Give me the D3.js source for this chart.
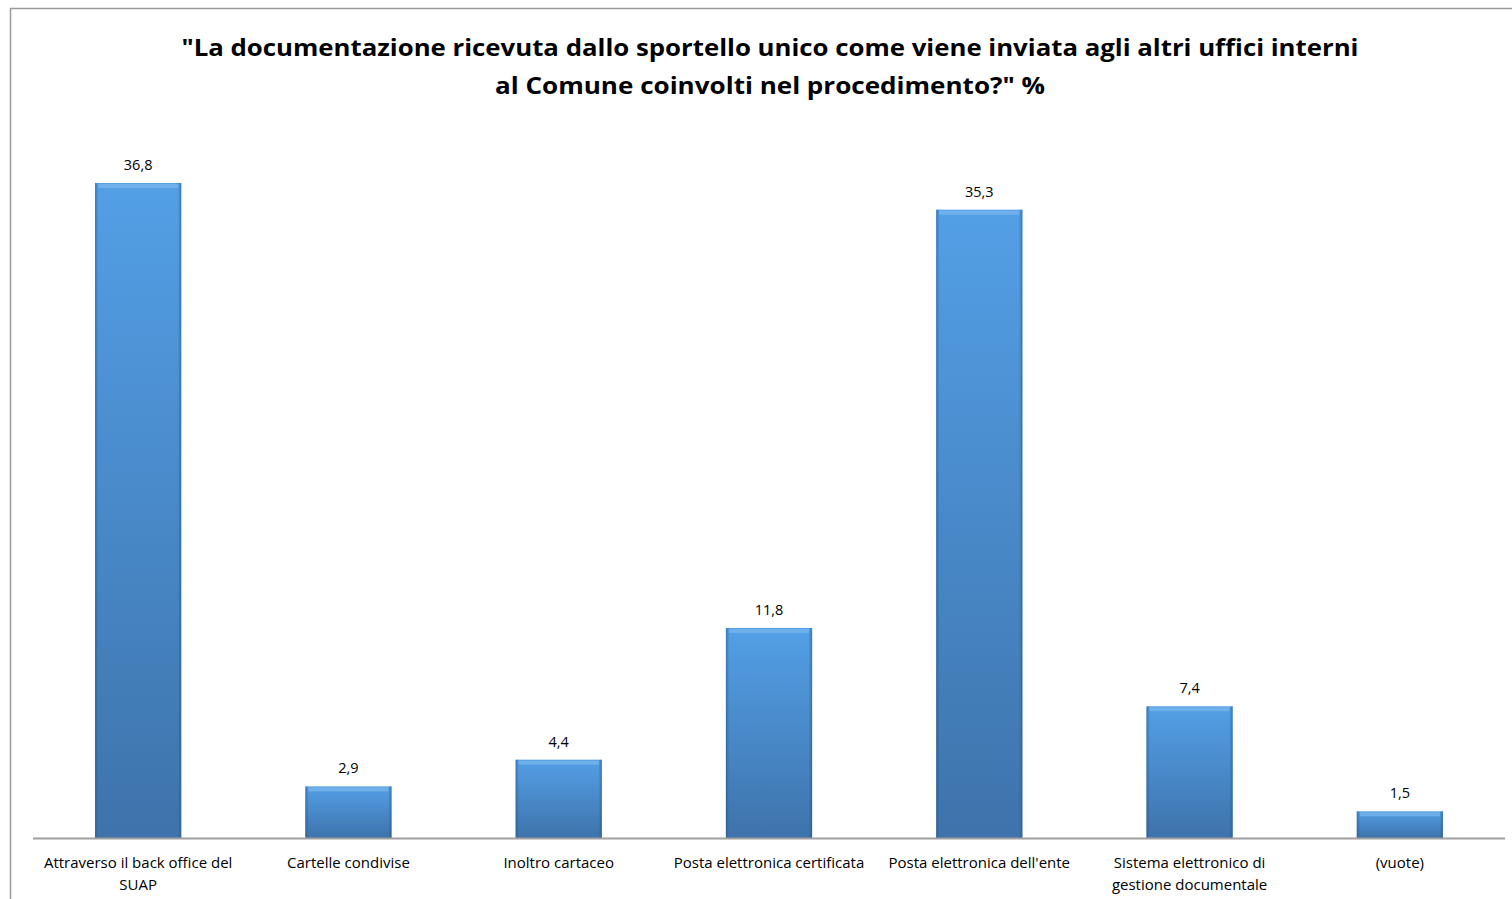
<!DOCTYPE html>
<html>
<head>
<meta charset="utf-8">
<script src="https://cdn.jsdelivr.net/npm/d3@7"></script>
<style>
body { margin: 0; background: #fff; }
svg text { font-family: "Open Sans", Lato, sans-serif; fill: #000; }
</style>
</head>
<body>
<svg id="mySVG" width="1512" height="899"></svg>
<script>
// chart data
var categories = ["Attraverso il back office del SUAP", "Cartelle condivise", "Inoltro cartaceo",
	"Posta elettronica certificata", "Posta elettronica dell'ente",
	"Sistema elettronico di gestione documentale", "(vuote)"];
var categoryLines = [["Attraverso il back office del", "SUAP"], ["Cartelle condivise"], ["Inoltro cartaceo"],
	["Posta elettronica certificata"], ["Posta elettronica dell'ente"],
	["Sistema elettronico di", "gestione documentale"], ["(vuote)"]];
var values = [36.8, 2.9, 4.4, 11.8, 35.3, 7.4, 1.5];
var valueLabels = ["36,8", "2,9", "4,4", "11,8", "35,3", "7,4", "1,5"];
var titleLines = ["\"La documentazione ricevuta dallo sportello unico come viene inviata agli altri uffici interni",
	"al Comune coinvolti nel procedimento?\" %"];
var titleWidths = [1177, 550];

function drawChart(){
	var svg = d3.select('#mySVG');

	// frame (left + top only visible)
	svg.append('path')
		.attr('d', 'M10.5,899 L10.5,8.5 L1512,8.5')
		.attr('fill', 'none')
		.attr('stroke', '#9a9a9a')
		.attr('stroke-width', 1.5);

	var defs = svg.append('defs');
	var grad = defs.append('linearGradient')
		.attr('id', 'barGrad')
		.attr('x1', 0).attr('y1', 0).attr('x2', 0).attr('y2', 1);
	grad.append('stop').attr('offset', '0%').attr('stop-color', '#539fe6');
	grad.append('stop').attr('offset', '100%').attr('stop-color', '#3e73ab');

	var side = defs.append('linearGradient')
		.attr('id', 'sideGrad')
		.attr('x1', 0).attr('y1', 0).attr('x2', 1).attr('y2', 0);
	side.append('stop').attr('offset', '0%').attr('stop-color', '#1f4f80').attr('stop-opacity', 0.5);
	side.append('stop').attr('offset', '4%').attr('stop-color', '#1f4f80').attr('stop-opacity', 0);
	side.append('stop').attr('offset', '96%').attr('stop-color', '#1f4f80').attr('stop-opacity', 0);
	side.append('stop').attr('offset', '100%').attr('stop-color', '#1f4f80').attr('stop-opacity', 0.5);

	var x = d3.scaleBand()
		.domain(categories)
		.range([33, 1505])
		.paddingInner(0.59)
		.paddingOuter(0.295);

	var y = d3.scaleLinear()
		.domain([0, 40])
		.range([838, 126]);

	// title
	svg.append('g').selectAll('text')
		.data(titleLines)
		.enter()
		.append('text')
		.attr('x', 770)
		.attr('y', function(d, i) { return 56 + i * 38; })
		.attr('text-anchor', 'middle')
		.attr('font-size', 24)
		.attr('font-weight', 'bold')
		.attr('textLength', function(d, i) { return titleWidths[i]; })
		.attr('lengthAdjust', 'spacingAndGlyphs')
		.text(function(d) { return d; });

	var bars = svg.append('g').selectAll('g')
		.data(values)
		.enter()
		.append('g');

	bars.append('rect')
		.attr('x', function(d, i) { return x(categories[i]); })
		.attr('y', function(d) { return y(d); })
		.attr('width', x.bandwidth())
		.attr('height', function(d) { return y(0) - y(d); })
		.attr('fill', 'url(#barGrad)');

	bars.append('rect')
		.attr('x', function(d, i) { return x(categories[i]); })
		.attr('y', function(d) { return y(d); })
		.attr('width', x.bandwidth())
		.attr('height', function(d) { return y(0) - y(d); })
		.attr('fill', 'url(#sideGrad)');

	// bevel highlight on top
	bars.append('rect')
		.attr('x', function(d, i) { return x(categories[i]) + 3; })
		.attr('y', function(d) { return y(d) + 1; })
		.attr('width', x.bandwidth() - 6)
		.attr('height', 4)
		.attr('fill', '#8cc3f2')
		.attr('opacity', 0.5);

	bars.append('text')
		.attr('x', function(d, i) { return x(categories[i]) + x.bandwidth() / 2; })
		.attr('y', function(d) { return y(d) - 13; })
		.attr('text-anchor', 'middle')
		.attr('font-size', 14.5)
		.text(function(d, i) { return valueLabels[i]; });

	// x axis line
	svg.append('line')
		.attr('x1', 33).attr('x2', 1505)
		.attr('y1', y(0) + 0.5).attr('y2', y(0) + 0.5)
		.attr('stroke', '#a0a0a0')
		.attr('stroke-width', 2);

	var labels = svg.append('g').selectAll('text')
		.data(categoryLines)
		.enter()
		.append('text')
		.attr('text-anchor', 'middle')
		.attr('font-size', 15)
		.attr('x', function(d, i) { return x(categories[i]) + x.bandwidth() / 2; })
		.attr('y', 868);

	labels.selectAll('tspan')
		.data(function(d) { return d; })
		.enter()
		.append('tspan')
		.attr('x', function() { return d3.select(this.parentNode).attr('x'); })
		.attr('dy', function(d, i) { return i === 0 ? 0 : 22; })
		.text(function(d) { return d; });
}

drawChart();
</script>
</body>
</html>
